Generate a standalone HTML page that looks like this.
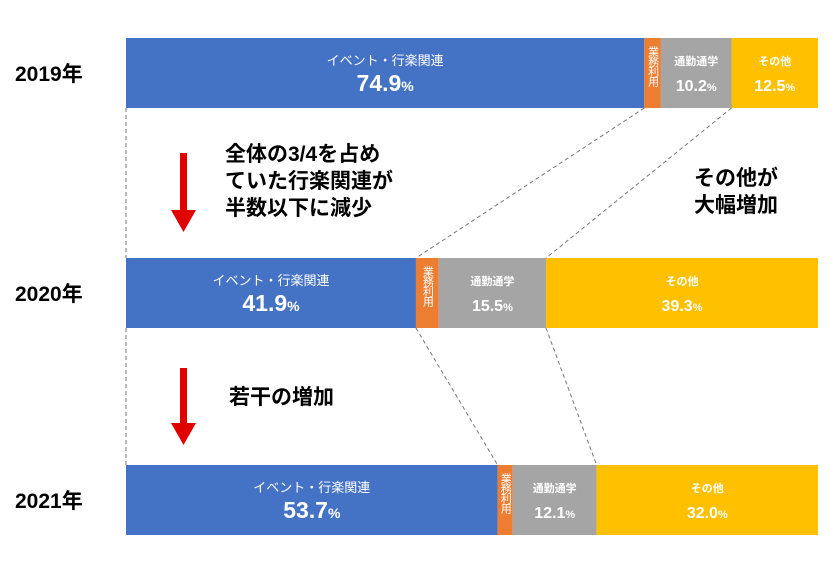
<!DOCTYPE html>
<html><head><meta charset="utf-8"><style>
body{margin:0;background:#fff;}
svg{display:block;font-family:"Liberation Sans","Noto Sans CJK JP",sans-serif;}
</style></head><body>
<svg id="chart" width="840" height="573"></svg>
<script>
const years=["2019年","2020年","2021年"];
const categories=["イベント・行楽関連","業務利用","通勤通学","その他"];
const event=[74.9,41.9,53.7];
const business=[2.4,3.3,2.2];
const commute=[10.2,15.5,12.1];
const other=[12.5,39.3,32.0];
const series=[event,business,commute,other];
const colors=["#4472C4","#ED7D31","#A5A5A5","#FFC000"];
const X0=126,W=692,barTops=[38,258,465],BH=70;
const x=v=>X0+v/100*W;
const svg=document.getElementById('chart');
const NS="http://www.w3.org/2000/svg";
function mk(t,a,p){const e=document.createElementNS(NS,t);for(const k in a)e.setAttribute(k,a[k]);(p||svg).appendChild(e);return e;}
const bounds=[];
years.forEach((yr,i)=>{
  const y=barTops[i];
  const yl=mk('text',{x:15,y:y+BH/2+8,'font-size':21,'font-weight':'bold',fill:'#000'});
  yl.textContent=yr;
  
  
  let cum=0;const b=[];
  series.forEach((s,j)=>{
    const x1=x(cum),x2=x(cum+s[i]);b.push(x1);
    const r=mk('rect',{x:x1,y:y,width:x2-x1,height:BH,fill:colors[j]});
    
    
    const cx=(x1+x2)/2;
    if(j===1){
      const t=mk('text',{x:cx,y:y+8,'font-size':11,fill:'#fff','writing-mode':'tb','text-anchor':'start','letter-spacing':'-1'});
      t.textContent="業務利用";
      
      
    } else {
      const fs=j===0?13:11;
      const t=mk('text',{x:cx,y:y+27,'font-size':fs,fill:'#fff','text-anchor':'middle','font-weight':j===0?'normal':'bold'});
      t.textContent=categories[j];
      
      
      const v=mk('text',{x:cx,y:y+53,'font-size':j===0?23:16,fill:'#fff','text-anchor':'middle','font-weight':'bold'});
      v.textContent=s[i].toFixed(1);
      const pc=mk('tspan',{'font-size':j===0?14:11},v);pc.textContent='%';
      
      
    }
    cum+=s[i];
  });
  b.push(x(cum));bounds.push(b);
});
for(let i=0;i<2;i++){
  const yA=barTops[i]+BH,yB=barTops[i+1];
  [[0,0],[1,1],[3,3]].forEach(([a])=>{
    const l=mk('line',{x1:bounds[i][a],y1:yA,x2:bounds[i+1][a],y2:yB,stroke:'#777','stroke-dasharray':'4,3','stroke-width':1});
    
    
  });
}
function arrow(y1,y2){
  const g=mk('g',{});
  
  
  mk('rect',{x:180,y:y1,width:7,height:y2-y1-22,fill:'#E00000'},g);
  mk('polygon',{points:`171,${y2-22} 196,${y2-22} 183.5,${y2}`,fill:'#E00000'},g);
}
arrow(153,232);arrow(368,445);
function note(lines,x0,y0,name){
  const t=mk('text',{x:x0,y:y0,'font-size':21,'font-weight':'bold',fill:'#000'});
  
  
  lines.forEach((s,k)=>{const ts=mk('tspan',{x:x0,dy:k?27:0},t);ts.textContent=s;});
}
note(["全体の3/4を占め","ていた行楽関連が","半数以下に減少"],225,161,'annotation-decrease');
note(["その他が","大幅増加"],694,185,'annotation-other-increase');
note(["若干の増加"],229,404,'annotation-slight-increase');
</script>
</body></html>
